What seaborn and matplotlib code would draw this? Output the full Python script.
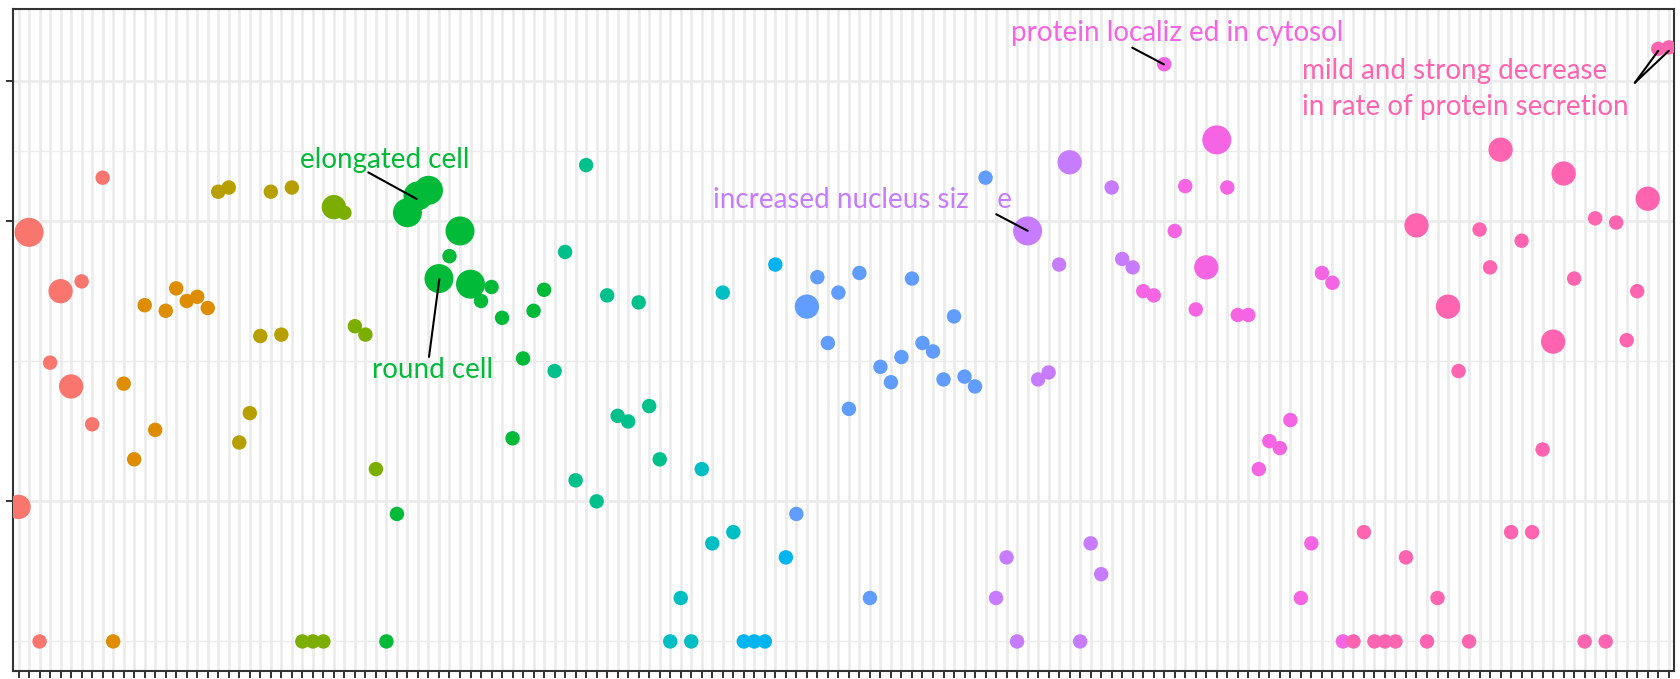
import numpy as np
import pandas as pd
import matplotlib
matplotlib.use("Agg")
import matplotlib.pyplot as plt
import seaborn as sns

# ---------------- data (one point per term, grouped by colour) ----------------
group_names = ["g01", "g02", "g03", "g04", "g05", "g06",
               "g07", "g08", "g09", "g10", "g11", "g12"]
group_colors = ["#F8766D", "#DE8C00", "#B79F00", "#7CAE00", "#00BA38", "#00C08B",
                "#00BFC4", "#00B4F0", "#619CFF", "#C77CFF", "#F564E3", "#FF64B0"]

g01_scores = [0.96, 2.92, 0.00, 1.99, 2.50, 1.82, 2.57, 1.55, 3.31]
g01_sizes = [2, 3, 1, 1, 2, 2, 1, 1, 1]
g02_scores = [0.00, 1.84, 1.30, 2.40, 1.51, 2.36, 2.52, 2.43, 2.46, 2.38]
g02_sizes = [1, 1, 1, 1, 1, 1, 1, 1, 1, 1]
g03_scores = [3.21, 3.24, 1.42, 1.63, 2.18, 3.21, 2.19, 3.24]
g03_sizes = [1, 1, 1, 1, 1, 1, 1, 1]
g04_scores = [0.00, 0.00, 0.00, 3.10, 3.06, 2.25, 2.19, 1.23]
g04_sizes = [1, 1, 1, 2, 1, 1, 1, 1]
g05_scores = [0.00, 0.91, 3.06, 3.18, 3.22, 2.59, 2.75, 2.93,
              2.55, 2.43, 2.53, 2.31, 1.45, 2.02, 2.36, 2.51]
g05_sizes = [1, 1, 3, 3, 3, 3, 1, 3, 3, 1, 1, 1, 1, 1, 1, 1]
g06_scores = [1.93, 2.78, 1.15, 3.40, 1.00, 2.47, 1.61, 1.57, 2.42, 1.68, 1.30]
g06_sizes = [1, 1, 1, 1, 1, 1, 1, 1, 1, 1, 1]
g07_scores = [0.00, 0.31, 0.00, 1.23, 0.70, 2.49, 0.78]
g07_sizes = [1, 1, 1, 1, 1, 1, 1]
g08_scores = [0.00, 0.00, 0.00, 2.69, 0.60]
g08_sizes = [1, 1, 1, 1, 1]
g09_scores = [0.91, 2.39, 2.60, 2.13, 2.49, 1.66, 2.63, 0.31, 1.96, 1.85,
              2.03, 2.59, 2.13, 2.07, 1.87, 2.32, 1.89, 1.82, 3.31]
g09_sizes = [1, 2, 1, 1, 1, 1, 1, 1, 1, 1, 1, 1, 1, 1, 1, 1, 1, 1, 1]
g10_scores = [0.31, 0.60, 0.00, 2.93, 1.87, 1.92, 2.69, 3.42, 0.00, 0.70,
              0.48, 3.24, 2.73, 2.67]
g10_sizes = [1, 1, 1, 3, 1, 1, 1, 2, 1, 1, 1, 1, 1, 1]
g11_scores = [2.50, 2.47, 4.12, 2.93, 3.25, 2.37, 2.67, 3.58, 3.24, 2.33,
              2.33, 1.23, 1.43, 1.38, 1.58, 0.31, 0.70, 2.63, 2.56, 0.00]
g11_sizes = [1, 1, 1, 1, 1, 1, 2, 3, 1, 1, 1, 1, 1, 1, 1, 1, 1, 1, 1, 1]
g12_scores = [0.00, 0.78, 0.00, 0.00, 0.00, 0.60, 2.97, 0.00, 0.31, 2.39,
              1.93, 0.00, 2.94, 2.67, 3.51, 0.78, 2.86, 0.78, 1.37, 2.14,
              3.34, 2.59, 0.00, 3.02, 0.00, 2.99, 2.15, 2.50, 3.16, 4.23, 4.24]
g12_sizes = [1, 1, 1, 1, 1, 1, 2, 1, 1, 2, 1, 1, 1, 1, 2, 1, 1, 1, 1, 2,
             2, 1, 1, 1, 1, 1, 1, 1, 2, 1, 1]

all_scores = [g01_scores, g02_scores, g03_scores, g04_scores, g05_scores, g06_scores,
              g07_scores, g08_scores, g09_scores, g10_scores, g11_scores, g12_scores]
all_sizes = [g01_sizes, g02_sizes, g03_sizes, g04_sizes, g05_sizes, g06_sizes,
             g07_sizes, g08_sizes, g09_sizes, g10_sizes, g11_sizes, g12_sizes]

# labels (text, colour group)
label_texts = ["elongated cell", "round cell", "increased nucleus siz    e",
               "protein localiz ed in cytosol",
               "mild and strong decrease\nin rate of protein secretion"]

# ---------------- build table ----------------
rows = []
pos = 0
for g, sc, sz in zip(group_names, all_scores, all_sizes):
    for s, z in zip(sc, sz):
        rows.append({"term": pos, "score": s, "group": g, "sclass": z})
        pos += 1
df = pd.DataFrame(rows)
n_terms = len(df)

# ---------------- plot ----------------
sns.set_theme(style="white")
plt.rcParams["font.family"] = ["Lato", "DejaVu Sans"]

W, H = 1681, 679
fig = plt.figure(figsize=(W / 100, H / 100), dpi=100)
left_px, right_px, top_px, bot_px = 13.3, 1674, 9.3, 671
ax = fig.add_axes([left_px / W, 1 - bot_px / H, (right_px - left_px) / W, (bot_px - top_px) / H])

palette = dict(zip(group_names, group_colors))
sns.scatterplot(data=df, x="term", y="score", hue="group", palette=palette,
                size="sclass", sizes={1: 108, 2: 306, 3: 436},
                linewidth=0, legend=False, ax=ax, zorder=3)

ax.set_xlim(-0.5, n_terms - 0.5)
ax.set_ylim(-0.211, 4.512)
ax.set_xticks(np.arange(n_terms))
ax.set_xticklabels([])
ax.set_yticks([1, 3, 4])
ax.set_yticks([0, 2, 3.5], minor=True)
ax.set_yticklabels([])
ax.set_xlabel("")
ax.set_ylabel("")
ax.set_axisbelow(True)
ax.grid(which="major", axis="x", color="#EBEBEB", lw=1.9)
ax.grid(which="major", axis="y", color="#EBEBEB", lw=1.9)
ax.grid(which="minor", axis="y", color="#EBEBEB", lw=1.0)
ax.tick_params(axis="both", which="major", length=5, width=1.4, color="#333333",
               direction="out", left=True, bottom=True)
ax.tick_params(axis="y", which="minor", length=0)
for sp in ax.spines.values():
    sp.set_visible(True)
    sp.set_color("#333333")
    sp.set_linewidth(1.5)

# ---------------- annotations ----------------
fs = 20
# elongated cell
ax.plot([33.27, 37.88], [3.348, 3.158], color="black", lw=1.5, zorder=5)
ax.text(34.86, 3.436, label_texts[0], color=group_colors[4], fontsize=fs, ha="center", va="center", zorder=6)
# round cell
ax.plot([40.03, 39.05], [2.585, 2.031], color="black", lw=1.5, zorder=5)
ax.text(39.43, 1.935, label_texts[1], color=group_colors[4], fontsize=fs, ha="center", va="center", zorder=6)
# increased nucleus size
ax.plot([93.02, 96.01], [3.049, 2.931], color="black", lw=1.5, zorder=5)
ax.text(80.32, 3.151, label_texts[2], color=group_colors[9], fontsize=fs, ha="center", va="center", zorder=6)
# protein localized in cytosol
ax.plot([105.96, 108.97], [4.238, 4.119], color="black", lw=1.5, zorder=5)
ax.text(110.23, 4.34, label_texts[3], color=group_colors[10], fontsize=fs, ha="center", va="center", zorder=6)
# secretion
ax.plot([153.78, 156.0], [3.988, 4.216], color="black", lw=1.5, zorder=5)
ax.plot([153.78, 157.01], [3.988, 4.216], color="black", lw=1.5, zorder=5)
ax.text(122.08, 3.944, label_texts[4], color=group_colors[11], fontsize=fs, ha="left", va="center",
        linespacing=1.5, zorder=6)

fig.savefig("out.png", dpi=100)
